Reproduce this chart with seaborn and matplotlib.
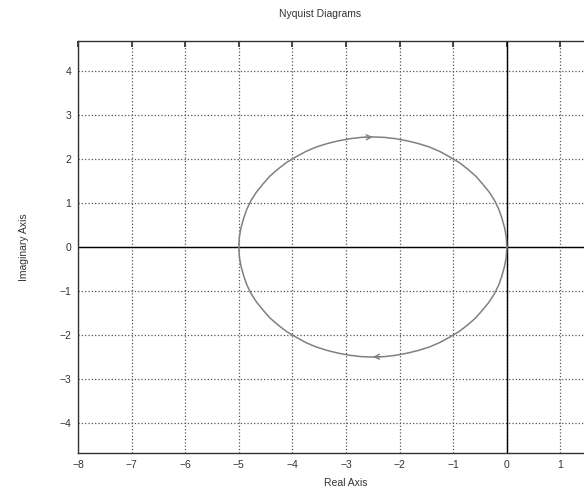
import numpy as np
import pandas as pd
import matplotlib
matplotlib.use("Agg")
import matplotlib.pyplot as plt
import seaborn as sns

# Nyquist curve points (real, imaginary), upper half
real_upper = [0.0, -0.01, -0.04, -0.09, -0.15, -0.23, -0.33, -0.45, -0.58, -0.73,
              -0.89, -1.07, -1.25, -1.44, -1.65, -1.85, -2.07, -2.28, -2.5,
              -2.72, -2.93, -3.15, -3.35, -3.56, -3.75, -3.93, -4.11, -4.27,
              -4.42, -4.55, -4.67, -4.77, -4.85, -4.91, -4.96, -4.99, -5.0]
imag_upper = [0.0, 0.22, 0.43, 0.65, 0.86, 1.06, 1.25, 1.43, 1.61, 1.77,
              1.92, 2.05, 2.17, 2.27, 2.35, 2.41, 2.46, 2.49, 2.5,
              2.49, 2.46, 2.41, 2.35, 2.27, 2.17, 2.05, 1.92, 1.77,
              1.61, 1.43, 1.25, 1.06, 0.86, 0.65, 0.43, 0.22, 0.0]
real_lower = real_upper[::-1]
imag_lower = [-v for v in imag_upper[::-1]]

x_ticks = [-8, -7, -6, -5, -4, -3, -2, -1, 0, 1]
y_ticks = [-4, -3, -2, -1, 0, 1, 2, 3, 4]

df = pd.DataFrame({
    "Real": real_upper + real_lower[1:],
    "Imag": imag_upper + imag_lower[1:],
})

sns.set_theme(style="white")
plt.rcParams["font.family"] = ["Liberation Sans", "DejaVu Sans"]

fig = plt.figure(figsize=(5.84, 4.91), dpi=100)
ax = fig.add_axes([78 / 584, 38 / 491, 536 / 584, 412 / 491])

ax.axhline(0, color="black", lw=1.0, zorder=1)
ax.axvline(0, color="black", lw=1.0, zorder=1)

sns.lineplot(data=df, x="Real", y="Imag", sort=False, estimator=None,
             color="#808080", lw=1.1, ax=ax, zorder=3)

# direction arrows
ax.annotate("", xy=(-2.45, 2.5), xytext=(-2.7, 2.49),
            arrowprops=dict(arrowstyle="->", color="#808080", lw=1.0,
                            mutation_scale=9))
ax.annotate("", xy=(-2.55, -2.5), xytext=(-2.3, -2.49),
            arrowprops=dict(arrowstyle="->", color="#808080", lw=1.0,
                            mutation_scale=9))

ax.set_xlim(-8, 2)
ax.set_ylim(-4.68, 4.68)
ax.set_xticks(x_ticks)
ax.set_yticks(y_ticks)
ax.grid(True, linestyle=":", color="#555555", lw=0.9)
ax.tick_params(direction="in", top=True, right=True, length=4,
               labelsize=7.5, colors="#333333", pad=5)
for s in ax.spines.values():
    s.set_color("#333333")
    s.set_linewidth(1.0)

ax.set_xlabel("Real Axis", fontsize=7.5, color="#333333", labelpad=6)
ax.set_ylabel("Imaginary Axis", fontsize=7.5, color="#333333", labelpad=22)
fig.text(320 / 584, 1 - 14 / 491, "Nyquist Diagrams", ha="center", va="center",
         fontsize=7.5, color="#333333")

fig.savefig("out.png", dpi=100)
